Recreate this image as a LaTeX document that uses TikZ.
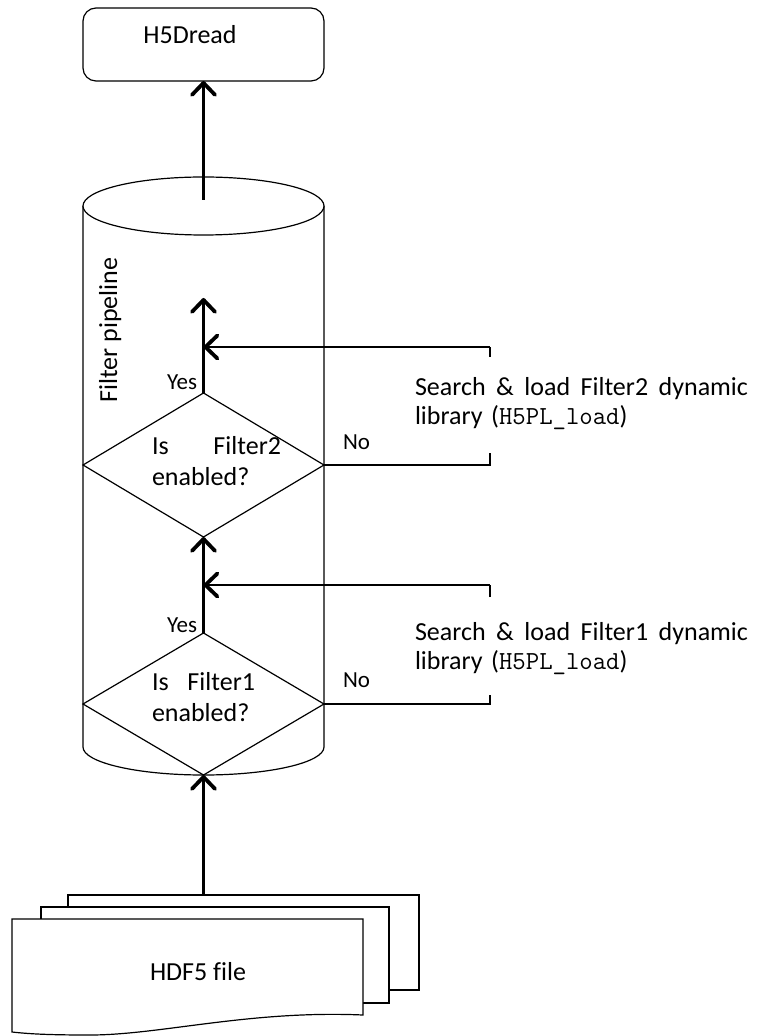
\documentclass[tikz,border=0pt]{standalone}
\usepackage{fontspec}
\setmainfont[Ligatures=NoCommon]{Carlito}
\usetikzlibrary{arrows.meta,shapes.geometric}

\newcommand\codeword[1]{{\ttfamily\fontsize{13}{14.5}\selectfont #1}}

\begin{document}
\begin{tikzpicture}[x=0.5pt,y=-0.5pt,
  thin/.style={line width=0.6pt},
  flow/.style={line width=1.2pt,
    -{Straight Barb[length=6pt,width=11.5pt,line width=1.9pt,round]}},
  txt/.style={font=\fontsize{13}{15.5}\selectfont, inner sep=0pt, outer sep=0pt},
  smalltxt/.style={font=\fontsize{11.5}{14}\selectfont, inner sep=0pt, outer sep=0pt},
  decision/.style={diamond, draw, thin, inner sep=0pt, outer sep=0pt,
    minimum width=120.5pt},
  desc/.style={txt, font=\fontsize{13}{14.5}\selectfont, text width=166.5pt,
    align=left, anchor=base west}]
\useasboundingbox (0,0) rectangle (762,1036);

% the filter pipeline drum
\draw[thin, fill=white] (83,206) -- (83,747)
  arc[start angle=180, end angle=0, x radius=120.5, y radius=28] -- (324,206);
\draw[thin, fill=white] (203.5,206) ellipse [x radius=120.5, y radius=29];
\node[txt, rotate=90, anchor=base] (pipe) at (117,330) {Filter pipeline};

% H5Dread call
\node[draw, thin, rounded corners=6.5pt, minimum width=120.5pt,
  minimum height=36.5pt, inner sep=0pt, outer sep=0pt] (read) at (203.5,44.5) {};
\node[txt, anchor=base] (readtxt) at (190,44) {H5Dread};

% decisions
\node[decision, minimum height=72pt] (d2) at (203.5,465) {};
\node[decision, minimum height=71pt] (d1) at (203.5,704) {};
\node[txt, text width=64.5pt, align=left, anchor=base west] (d2txt) at (152,454)
  {\makebox[64.5pt][l]{Is\hfill Filter2}\\enabled?};
\node[txt, text width=51.5pt, align=left, anchor=base west] (d1txt) at (152,690)
  {\makebox[51.5pt][l]{Is\hfill Filter1}\\enabled?};

% stacked HDF5 files
\draw[thin, fill=white] (68,895) rectangle (419,990);
\draw[thin, fill=white] (41,907) rectangle (389,1003);
\draw[thin, fill=white] (12,919) -- (363,919) -- (363,1015)
  .. controls (250,1010) and (160,1035) .. (90,1035)
  .. controls (50,1035) and (30,1034) .. (12,1032) -- cycle;
\node[txt, anchor=base] (filetxt) at (198,980) {HDF5 file};

% connection points
\coordinate (filetop) at (203.5,895);
\coordinate (cyltop) at (203.5,200);
\coordinate (out2) at (203.5,298);
\coordinate (n2a) at (490,465);
\coordinate (n2b) at (490,453);
\coordinate (r2a) at (490,357);
\coordinate (r2b) at (490,347);
\coordinate (j2) at (203.5,347);
\coordinate (n1a) at (490,704);
\coordinate (n1b) at (490,695);
\coordinate (r1a) at (490,597);
\coordinate (r1b) at (490,585);
\coordinate (j1) at (203.5,585);

% data flow
\draw[flow] (filetop) -- (d1.south);
\draw[flow] (d1.north) -- (d2.south);
\draw[flow] (d2.north) -- (out2);
\draw[flow] (cyltop) -- (read.south);

% loading branches
\draw[thin] (d2.east) -- (n2a) -- (n2b);
\draw[thin] (r2a) -- (r2b);
\draw[flow] (r2b) -- (j2);
\draw[thin] (d1.east) -- (n1a) -- (n1b);
\draw[thin] (r1a) -- (r1b);
\draw[flow] (r1b) -- (j1);

% branch labels
\node[smalltxt, anchor=base east] (yes2) at (197,390) {Yes};
\node[smalltxt, anchor=base east] (yes1) at (197,632) {Yes};
\node[smalltxt, anchor=base west] (no2) at (343,450) {No};
\node[smalltxt, anchor=base west] (no1) at (343,687) {No};

\node[desc] (load2) at (415,396)
  {\makebox[166.5pt][l]{Search\hfill\&\hfill load\hfill Filter2\hfill dynamic}\\
   library (\codeword{H5PL\_load})};
\node[desc] (load1) at (415,640)
  {\makebox[166.5pt][l]{Search\hfill\&\hfill load\hfill Filter1\hfill dynamic}\\
   library (\codeword{H5PL\_load})};
\end{tikzpicture}
\end{document}
